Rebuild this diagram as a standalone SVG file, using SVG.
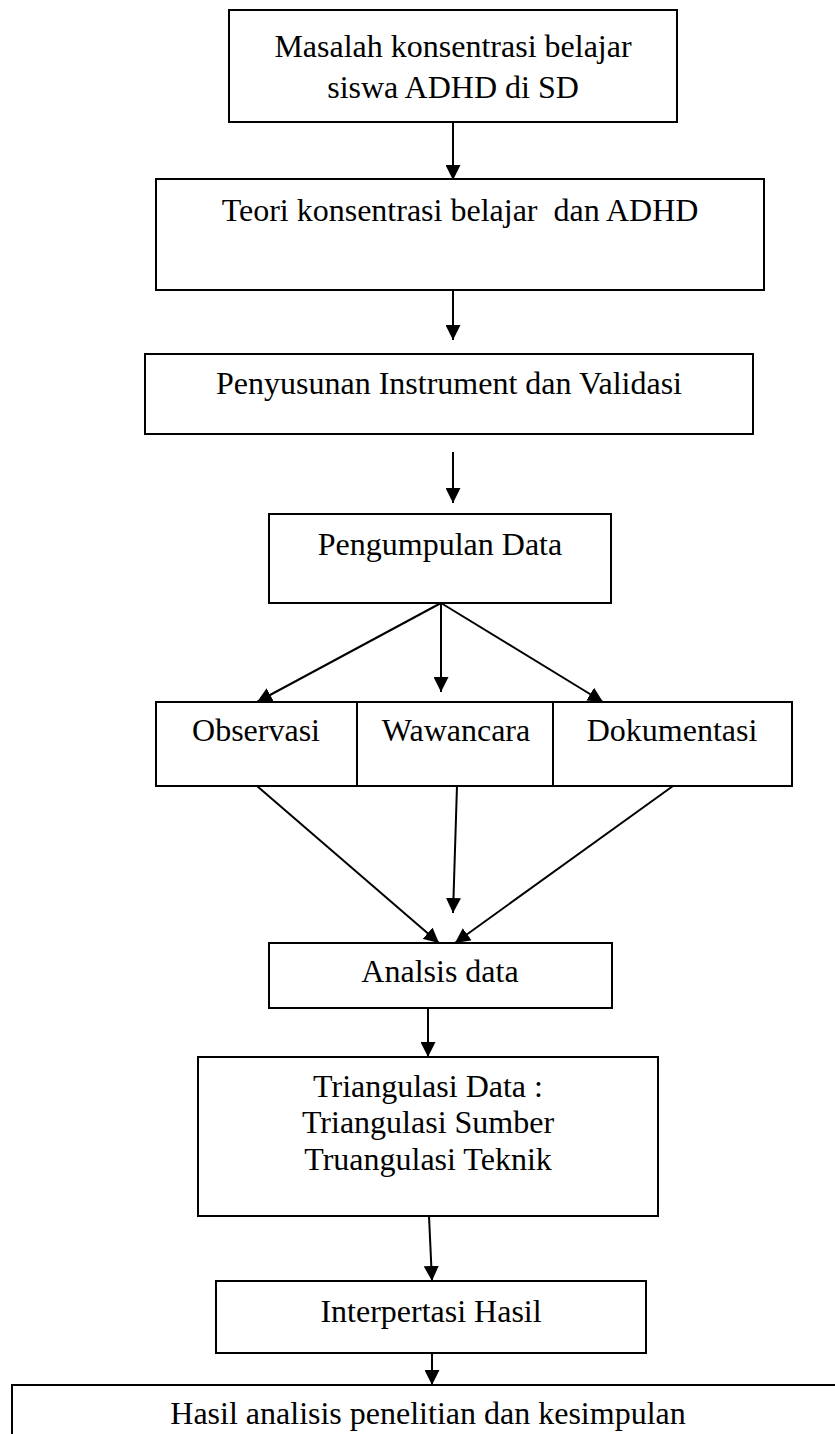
<svg xmlns="http://www.w3.org/2000/svg" width="835" height="1434" viewBox="0 0 835 1434">
<style>
  .box { fill: #fff; stroke: #000; stroke-width: 2; }
  .lbl { font-family: "Liberation Serif", "Times New Roman", serif; font-size: 32px; fill: #000; text-anchor: middle; white-space: pre; }
  .edge { stroke: #000; stroke-width: 2; fill: none; marker-end: url(#arrow); }
</style>
<defs>
  <marker id="arrow" viewBox="0 0 15 15" refX="15" refY="7.5" markerWidth="15" markerHeight="15" markerUnits="userSpaceOnUse" orient="auto">
    <path d="M0,0 L15,7.5 L0,15 z" fill="#000"/>
  </marker>
</defs>
<rect width="835" height="1434" fill="#fff"/>

<g id="n1">
  <rect class="box" x="229" y="10" width="448" height="112"/>
  <text class="lbl" x="453" y="57">Masalah konsentrasi belajar</text>
  <text class="lbl" x="453" y="98">siswa ADHD di SD</text>
</g>
<g id="n2">
  <rect class="box" x="156" y="179" width="608" height="111"/>
  <text class="lbl" x="460" y="221" xml:space="preserve">Teori konsentrasi belajar  dan ADHD</text>
</g>
<g id="n3">
  <rect class="box" x="145" y="354" width="608" height="80"/>
  <text class="lbl" x="449" y="394">Penyusunan Instrument dan Validasi</text>
</g>
<g id="n4">
  <rect class="box" x="269" y="514" width="342" height="89"/>
  <text class="lbl" x="440" y="555">Pengumpulan Data</text>
</g>
<g id="n5">
  <rect class="box" x="156" y="702" width="201" height="84"/>
  <text class="lbl" x="256" y="741">Observasi</text>
</g>
<g id="n6">
  <rect class="box" x="357" y="702" width="196" height="84"/>
  <text class="lbl" x="456" y="741">Wawancara</text>
</g>
<g id="n7">
  <rect class="box" x="553" y="702" width="239" height="84"/>
  <text class="lbl" x="672" y="741">Dokumentasi</text>
</g>
<g id="n8">
  <rect class="box" x="269" y="943" width="343" height="65"/>
  <text class="lbl" x="440" y="982">Analsis data</text>
</g>
<g id="n9">
  <rect class="box" x="198" y="1057" width="460" height="159"/>
  <text class="lbl" x="428" y="1097">Triangulasi Data :</text>
  <text class="lbl" x="428" y="1133">Triangulasi Sumber</text>
  <text class="lbl" x="428" y="1170">Truangulasi Teknik</text>
</g>
<g id="n10">
  <rect class="box" x="216" y="1281" width="430" height="72"/>
  <text class="lbl" x="431" y="1322">Interpertasi Hasil</text>
</g>
<g id="n11">
  <rect class="box" x="12" y="1385" width="840" height="70"/>
  <text class="lbl" x="428" y="1424">Hasil analisis penelitian dan kesimpulan</text>
</g>

<g id="connectors">
  <line class="edge" x1="453" y1="122" x2="453" y2="180"/>
  <line class="edge" x1="453" y1="290" x2="453" y2="340"/>
  <line class="edge" x1="453" y1="452" x2="453" y2="503"/>
  <line class="edge" x1="441" y1="603" x2="257" y2="702"/>
  <line class="edge" x1="441" y1="603" x2="441" y2="692"/>
  <line class="edge" x1="441" y1="603" x2="603" y2="702"/>
  <line class="edge" x1="257" y1="786" x2="439" y2="943"/>
  <line class="edge" x1="457" y1="786" x2="453" y2="913"/>
  <line class="edge" x1="673" y1="786" x2="455" y2="943"/>
  <line class="edge" x1="428" y1="1008" x2="428" y2="1057"/>
  <line class="edge" x1="429" y1="1216" x2="432" y2="1281"/>
  <line class="edge" x1="432" y1="1353" x2="432" y2="1385"/>
</g>
</svg>
